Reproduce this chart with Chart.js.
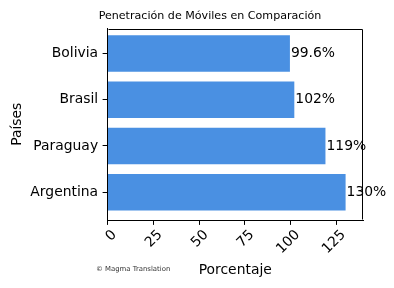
<!DOCTYPE html>
<html><head><meta charset="utf-8">
<script src="https://cdn.jsdelivr.net/npm/chart.js@4.4.0/dist/chart.umd.min.js"></script>
<style>html,body{margin:0;padding:0;background:#fff;}</style>
</head><body>
<canvas id="c" width="394" height="288" style="width:394px;height:288px;display:block"></canvas>
<script>
const countries = ['Argentina', 'Paraguay', 'Brasil', 'Bolivia'];
const values = [130, 119, 102, 99.6];
const xTicks = [0, 25, 50, 75, 100, 125];
const titleText = 'Penetración de Móviles en Comparación';
const xTitle = 'Porcentaje';
const yTitle = 'Países';
const footerText = '© Magma Translation';

const FONT = '"DejaVu Sans", sans-serif';
const BAR = '#4A90E2';

const textPlugin = {
  id: 'texts',
  afterDraw(chart) {
    const ctx = chart.ctx;
    const a = chart.chartArea;
    ctx.save();
    ctx.strokeStyle = '#000';
    ctx.lineWidth = 1;
    const l = Math.round(a.left) + 0.5, t = Math.round(a.top) + 0.5;
    const r = Math.round(a.right) - 0.5, b = Math.round(a.bottom) - 0.5;
    ctx.beginPath();
    ctx.moveTo(l, t); ctx.lineTo(r, t); ctx.lineTo(r, b);
    ctx.stroke();
    ctx.fillStyle = '#000';
    ctx.font = '11.1px ' + FONT;
    ctx.textAlign = 'center';
    ctx.textBaseline = 'alphabetic';
    ctx.fillText(titleText, 210, 18.7);
    ctx.font = '13.9px ' + FONT;
    ctx.fillText(xTitle, (a.left + a.right) / 2, 273.5);
    ctx.save();
    ctx.translate(21.2, (a.top + a.bottom) / 2);
    ctx.rotate(-Math.PI / 2);
    ctx.fillText(yTitle, 0, 0);
    ctx.restore();
    ctx.font = '6.9px ' + FONT;
    ctx.textAlign = 'left';
    ctx.fillStyle = '#333';
    ctx.fillText(footerText, 96, 270.5);
    ctx.restore();
  },
  afterDatasetsDraw(chart) {
    const ctx = chart.ctx;
    const meta = chart.getDatasetMeta(0);
    ctx.save();
    ctx.font = '13.9px ' + FONT;
    ctx.fillStyle = '#000';
    ctx.textAlign = 'left';
    ctx.textBaseline = 'middle';
    meta.data.forEach((bar, i) => {
      ctx.fillText(values[i] + '%', bar.x + 1, bar.y);
    });
    ctx.restore();
  }
};

new Chart(document.getElementById('c'), {
  type: 'bar',
  data: {
    datasets: [{
      data: values.map((v, i) => ({ x: v, y: i })),
      backgroundColor: BAR,
      borderWidth: 0,
      barPercentage: 0.79,
      categoryPercentage: 1
    }]
  },
  options: {
    indexAxis: 'y',
    responsive: false,
    animation: false,
    devicePixelRatio: 1,
    layout: { padding: { top: 28.5, right: 31, left: 0, bottom: 0 } },
    plugins: { legend: { display: false }, tooltip: { enabled: false }, title: { display: false } },
    scales: {
      x: {
        type: 'linear',
        min: 0,
        max: 139.5,
        offset: false,
        afterBuildTicks: s => { s.ticks = xTicks.map(v => ({ value: v })); },
        afterFit: s => { s.height = 68; },
        ticks: {
          color: '#000',
          font: { family: FONT, size: 13.9 },
          minRotation: 45,
          maxRotation: 45,
          padding: 2,
          labelOffset: 7
        },
        grid: { offset: false, drawOnChartArea: false, drawTicks: true, tickLength: 4.9, color: '#000', lineWidth: 1 },
        border: { display: true, color: '#000', width: 1 }
      },
      y: {
        type: 'linear',
        min: -0.6,
        max: 3.54,
        offset: false,
        afterBuildTicks: s => { s.ticks = countries.map((c, i) => ({ value: i })); },
        afterFit: s => { s.width = 107.5; },
        ticks: {
          color: '#000',
          font: { family: FONT, size: 13.9 },
          padding: 4.5,
          callback: v => countries[v]
        },
        grid: { offset: false, drawOnChartArea: false, drawTicks: true, tickLength: 4.9, color: '#000', lineWidth: 1 },
        border: { display: true, color: '#000', width: 1 }
      }
    }
  },
  plugins: [textPlugin]
});
</script>
</body></html>
